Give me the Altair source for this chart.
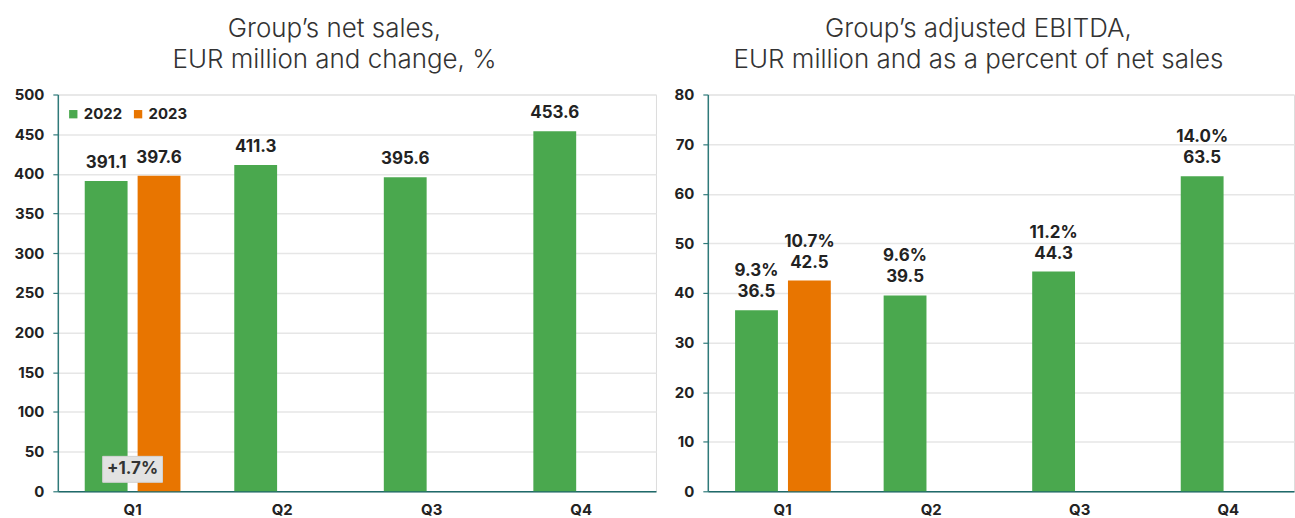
import altair as alt
import pandas as pd

quarters = ["Q1", "Q2", "Q3", "Q4"]
years = ["2022", "2023"]

sales_q = ["Q1", "Q1", "Q2", "Q3", "Q4"]
sales_year = ["2022", "2023", "2022", "2022", "2022"]
sales_val = [391.1, 397.6, 411.3, 395.6, 453.6]

ebitda_q = ["Q1", "Q1", "Q2", "Q3", "Q4"]
ebitda_year = ["2022", "2023", "2022", "2022", "2022"]
ebitda_val = [36.5, 42.5, 39.5, 44.3, 63.5]
ebitda_pct = ["9.3%", "10.7%", "9.6%", "11.2%", "14.0%"]

change_label = ["+1.7%"]
change_q = ["Q1"]
change_box = [11.3, 44.0]   # box extent in EUR million units
change_mid = [27.7]

GREEN = "#4aa84e"
ORANGE = "#e87500"
AXIS = "#2f7a7a"
FONT = "Inter"
TXT = "#222222"

sales = pd.DataFrame({"q": sales_q, "year": sales_year, "v": sales_val,
                      "lab": [f"{v:.1f}" for v in sales_val]})
ebitda = pd.DataFrame({"q": ebitda_q, "year": ebitda_year, "v": ebitda_val,
                       "lab": [f"{v:.1f}" for v in ebitda_val], "pct": ebitda_pct})
chg = pd.DataFrame({"q": change_q, "lab": change_label, "y0": [change_box[0]],
                    "y1": [change_box[1]], "ym": change_mid})

color_scale = alt.Scale(domain=years, range=[GREEN, ORANGE])
xoff_scale = alt.Scale(domain=years, paddingInner=0.19, paddingOuter=0)
x_scale_left = alt.Scale(domain=quarters, paddingInner=0.36, paddingOuter=0.18)
x_scale_right = alt.Scale(domain=quarters, paddingInner=0.36, paddingOuter=0.153, align=0.6)

H = 398


def y_axis(ymax, ystep):
    return alt.Axis(values=list(range(0, ymax + 1, ystep)), domainColor=AXIS,
                    domainWidth=1.5, tickColor=AXIS, tickSize=5, tickWidth=1.2,
                    labelFontSize=15, labelFontWeight="bold", labelColor=TXT,
                    labelFont=FONT, labelPadding=9, labelOverlap=False,
                    gridColor="#e6e6e6", gridWidth=1.5, minExtent=45, maxExtent=45)


def panel(df, ymax, ystep, title, W, x_scale, two_line, extra=None):
    x = alt.X("q:N", scale=x_scale, title=None,
              axis=alt.Axis(labelAngle=0, ticks=False, domain=True, domainColor="#1f6a6a",
                            domainWidth=1.5, labelFontSize=15, labelFontWeight="bold",
                            labelColor=TXT, labelFont=FONT, labelPadding=11, grid=False))
    yscale = alt.Scale(domain=[0, ymax], nice=False)
    y = alt.Y("v:Q", scale=yscale, title=None, axis=y_axis(ymax, ystep))
    base = alt.Chart(df)
    bars = base.mark_bar().encode(
        x=x, y=y,
        xOffset=alt.XOffset("year:N", scale=xoff_scale),
        color=alt.Color("year:N", scale=color_scale,
                        legend=alt.Legend(title=None, orient="none", legendX=8, legendY=12,
                                          direction="horizontal", symbolType="square",
                                          symbolSize=70, labelFontSize=15, labelFont=FONT,
                                          labelFontWeight="bold", labelColor=TXT,
                                          columnPadding=8, labelOffset=3,
                                          symbolStrokeWidth=0)),
    )
    layers = [bars]
    layers.append(base.mark_text(baseline="alphabetic", dy=-13, fontSize=17,
                                 fontWeight="bold", font=FONT, color=TXT).encode(
        x=alt.X("q:N", scale=x_scale),
        xOffset=alt.XOffset("year:N", scale=xoff_scale),
        y=alt.Y("v:Q", scale=yscale, axis=y_axis(ymax, ystep)), text="lab:N"))
    if two_line:
        layers.append(base.mark_text(baseline="alphabetic", dy=-34, fontSize=17,
                                     fontWeight="bold", font=FONT, color=TXT).encode(
            x=alt.X("q:N", scale=x_scale),
            xOffset=alt.XOffset("year:N", scale=xoff_scale),
            y=alt.Y("v:Q", scale=yscale, axis=y_axis(ymax, ystep)), text="pct:N"))
    if extra is not None:
        c = alt.Chart(extra)
        layers.append(c.mark_bar(width=60, color="#e2e2e2", stroke="#d2d2d2",
                                 strokeWidth=1).encode(
            x=alt.X("q:N", scale=x_scale),
            y=alt.Y("y0:Q", scale=yscale, axis=y_axis(ymax, ystep)), y2="y1:Q"))
        layers.append(c.mark_text(fontSize=17, fontWeight="bold", font=FONT,
                                  color="#333333", baseline="middle").encode(
            x=alt.X("q:N", scale=x_scale),
            y=alt.Y("ym:Q", scale=yscale, axis=y_axis(ymax, ystep)), text="lab:N"))
    return alt.layer(*layers).properties(
        width=W, height=H,
        title=alt.TitleParams(title, fontSize=26, font=FONT, fontWeight=300,
                              color="#333333", lineHeight=31, anchor="middle",
                              frame="bounds", offset=15))


left = panel(sales, 500, 50, ["Group’s net sales,", "EUR million and change, %"],
             600, x_scale_left, False, chg)
right = panel(ebitda, 80, 10, ["Group’s adjusted EBITDA,",
                               "EUR million and as a percent of net sales"],
              588, x_scale_right, True)

chart = alt.hconcat(left, right, spacing=5).properties(
    padding={"left": 12, "top": 14, "right": 0, "bottom": 0}
).configure_view(stroke=None).configure(background="white")

chart.save("out.html", embed_options={"renderer": "svg", "actions": False})
